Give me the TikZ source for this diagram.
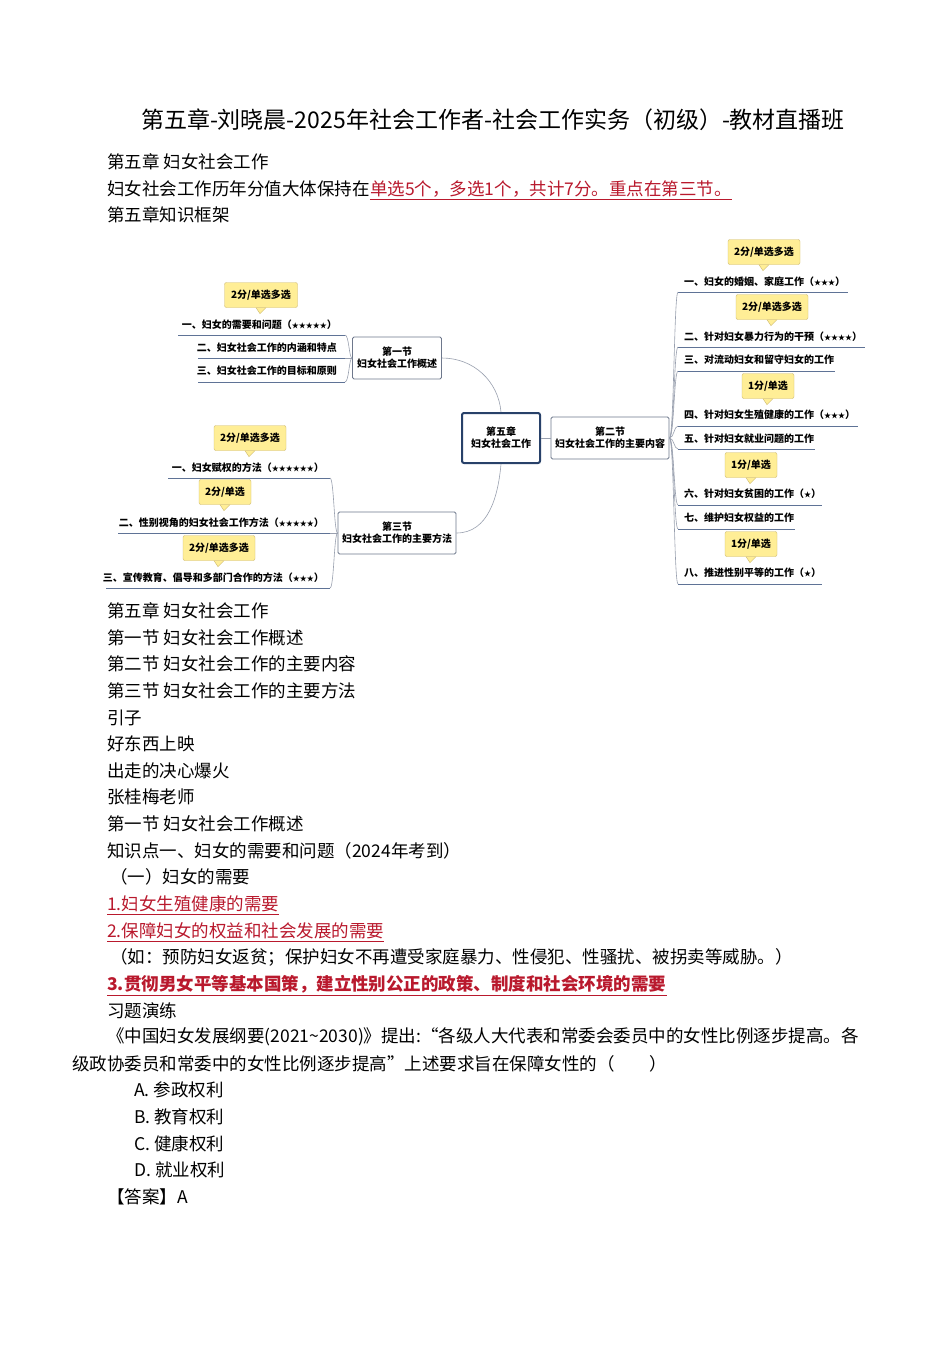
\documentclass[tikz,border=0pt]{standalone}
\usepackage{fontspec}
\setmainfont{Noto Sans CJK SC}
\definecolor{redt}{RGB}{185,25,45}
\definecolor{cfill}{RGB}{255,238,150}
\definecolor{cline}{RGB}{205,185,110}
\definecolor{bline}{RGB}{110,120,140}
\definecolor{uline}{RGB}{95,115,150}
\definecolor{cblue}{RGB}{40,65,105}
\tikzset{
 body/.style={anchor=west,inner sep=0pt,font=\fontsize{17.5}{20}\selectfont},
 redu/.style={body,text=redt},
 mm/.style={inner sep=0pt,font=\fontsize{10}{12}\selectfont\bfseries},
 itm/.style={mm,anchor=west},
 secbox/.style={draw=bline,line width=0.8pt,rounded corners=1.5pt,fill=white,align=center,mm,minimum width=#1,minimum height=42pt},
 call/.style={draw=cline,fill=cfill,rounded corners=2pt,mm,minimum height=25pt,minimum width=#1},
 ul/.style={draw=uline,line width=0.9pt},
 br/.style={draw=bline!70,line width=0.6pt},
}
\newcommand\ptr[1]{\filldraw[draw=cline,fill=cfill] ([xshift=-5pt]#1.south) -- ([xshift=5pt]#1.south) -- ([xshift=-1pt,yshift=-6pt]#1.south) -- cycle;}
\begin{document}
\begin{tikzpicture}[x=1pt,y=-1pt]
\useasboundingbox[fill=white] (0,0) rectangle (950,1345);
\node[anchor=center,inner sep=0pt,font=\fontsize{23}{26}\selectfont] (title) at (493,120) {第五章-刘晓晨-2025年社会工作者-社会工作实务（初级）-教材直播班};
\node[body] (h1) at (107,162) {第五章\ 妇女社会工作};
\node[body] (p1) at (107,189) {妇女社会工作历年分值大体保持在};
\node[redu,anchor=west] (p1r) at (p1.east) {单选5个，多选1个，共计7分。重点在第三节。};
\draw[redt,line width=0.7pt] ([yshift=-2pt]p1r.south west) -- ([yshift=-2pt]p1r.south east);
\node[body] (h2) at (107,215) {第五章知识框架};

% mind map
\node[draw=cblue,line width=2pt,rounded corners=2pt,fill=white,align=center,mm,minimum width=78pt,minimum height=50pt] (c) at (501,438) {第五章\\妇女社会工作};
\node[secbox=89pt] (s1) at (397,358) {第一节\\妇女社会工作概述};
\node[secbox=118pt] (s3) at (397,533) {第三节\\妇女社会工作的主要方法};
\node[secbox=118pt] (s2) at (610,438) {第二节\\妇女社会工作的主要内容};
\draw[br] (s1.east) to[out=0,in=95] (c.north);
\draw[br] (s3.east) to[out=0,in=-95] (c.south);
\draw[br] (c.east) -- (s2.west);

% section 1 items
\node[itm,anchor=east] (a1) at (337,325) {一、妇女的需要和问题（{\scriptsize★★★★★}）};
\node[itm,anchor=east] (a2) at (337,348) {二、妇女社会工作的内涵和特点};
\node[itm,anchor=east] (a3) at (337,371) {三、妇女社会工作的目标和原则};
\coordinate (a1s) at (178,335); \coordinate (a1e) at (345,335);
\coordinate (a2s) at (198,358); \coordinate (a2e) at (345,358);
\coordinate (a3s) at (198,382); \coordinate (a3e) at (345,382);
\foreach \i/\yy in {1/335,2/358,3/382}{\draw[ul] (a\i s) -- (a\i e); \draw[br] (s1.west) .. controls (349,358) and (349,\yy) .. (a\i e);}

% section 3 items
\node[itm,anchor=east] (b1) at (324,468) {一、妇女赋权的方法（{\scriptsize★★★★★★}）};
\node[itm,anchor=east] (b2) at (324,523) {二、性别视角的妇女社会工作方法（{\scriptsize★★★★★}）};
\node[itm,anchor=east] (b3) at (324,578) {三、宣传教育、倡导和多部门合作的方法（{\scriptsize★★★}）};
\coordinate (b1s) at (168,478); \coordinate (b1e) at (330,478);
\coordinate (b2s) at (118,533); \coordinate (b2e) at (330,533);
\coordinate (b3s) at (106,588); \coordinate (b3e) at (330,588);
\foreach \i/\yy in {1/478,2/533,3/588}{\draw[ul] (b\i s) -- (b\i e); \draw[br] (s3.west) .. controls (334,533) and (334,\yy) .. (b\i e);}

% section 2 items
\node[itm] (r1) at (684,282) {一、妇女的婚姻、家庭工作（{\scriptsize★★★}）};
\node[itm] (r2) at (684,337) {二、针对妇女暴力行为的干预（{\scriptsize★★★★}）};
\node[itm] (r3) at (684,360) {三、对流动妇女和留守妇女的工作};
\node[itm] (r4) at (684,415) {四、针对妇女生殖健康的工作（{\scriptsize★★★}）};
\node[itm] (r5) at (684,439) {五、针对妇女就业问题的工作};
\node[itm] (r6) at (684,494) {六、针对妇女贫困的工作（{\scriptsize★}）};
\node[itm] (r7) at (684,518) {七、维护妇女权益的工作};
\node[itm] (r8) at (684,573) {八、推进性别平等的工作（{\scriptsize★}）};
\foreach \i/\yy/\xe in {1/292/848,2/347/865,3/371/835,4/426/858,5/449/815,6/505/822,7/529/795,8/584/822}{
  \coordinate (q\i s) at (678,\yy); \coordinate (q\i e) at (\xe,\yy);
  \draw[ul] (q\i s) -- (q\i e);
  \draw[br] (s2.east) .. controls (674,438) and (674,\yy) .. (q\i s);
}

% callouts
\node[call=72pt] (k1) at (764,252) {2分/单选多选}; \ptr{k1}
\node[call=72pt] (k2) at (772,307) {2分/单选多选}; \ptr{k2}
\node[call=52pt] (k3) at (768,386) {1分/单选}; \ptr{k3}
\node[call=52pt] (k4) at (751,465) {1分/单选}; \ptr{k4}
\node[call=52pt] (k5) at (751,544) {1分/单选}; \ptr{k5}
\node[call=73pt] (k6) at (261,295) {2分/单选多选}; \ptr{k6}
\node[call=72pt] (k7) at (250,438) {2分/单选多选}; \ptr{k7}
\node[call=52pt] (k8) at (225,492) {2分/单选}; \ptr{k8}
\node[call=72pt] (k9) at (219,548) {2分/单选多选}; \ptr{k9}

% body text below
\node[body] (t1) at (107,611) {第五章\ 妇女社会工作};
\node[body] (t2) at (107,638) {第一节\ 妇女社会工作概述};
\node[body] (t3) at (107,664) {第二节\ 妇女社会工作的主要内容};
\node[body] (t4) at (107,691) {第三节\ 妇女社会工作的主要方法};
\node[body] (t5) at (107,718) {引子};
\node[body] (t6) at (107,744) {好东西上映};
\node[body] (t7) at (107,771) {出走的决心爆火};
\node[body] (t8) at (107,797) {张桂梅老师};
\node[body] (t9) at (107,824) {第一节\ 妇女社会工作概述};
\node[body] (t10) at (107,851) {知识点一、妇女的需要和问题（2024年考到）};
\node[body] (t11) at (110,877) {（一）妇女的需要};
\node[redu] (t12) at (107,904) {1.妇女生殖健康的需要};
\node[redu] (t13) at (107,931) {2.保障妇女的权益和社会发展的需要};
\node[body] (t14) at (110,957) {（如：预防妇女返贫；保护妇女不再遭受家庭暴力、性侵犯、性骚扰、被拐卖等威胁。）};
\node[redu,font=\fontsize{17.5}{20}\selectfont\bfseries] (t15) at (107,984) {3.贯彻男女平等基本国策，建立性别公正的政策、制度和社会环境的需要};
\foreach \n in {t12,t13,t15}{\draw[redt,line width=0.7pt] ([yshift=-2pt]\n.south west) -- ([yshift=-2pt]\n.south east);}
\node[body] (t16) at (107,1011) {习题演练};
\node[body] (t17) at (107,1037) {《中国妇女发展纲要(2021\textasciitilde 2030)》提出:“各级人大代表和常委会委员中的女性比例逐步提高。各};
\node[body] (t18) at (72,1064) {级政协委员和常委中的女性比例逐步提高”上述要求旨在保障女性的（\quad\quad）};
\node[body] (t19) at (134,1090) {A.\ 参政权利};
\node[body] (t20) at (134,1117) {B.\ 教育权利};
\node[body] (t21) at (134,1144) {C.\ 健康权利};
\node[body] (t22) at (134,1170) {D.\ 就业权利};
\node[body] (t23) at (107,1197) {【答案】A};
\end{tikzpicture}
\end{document}
